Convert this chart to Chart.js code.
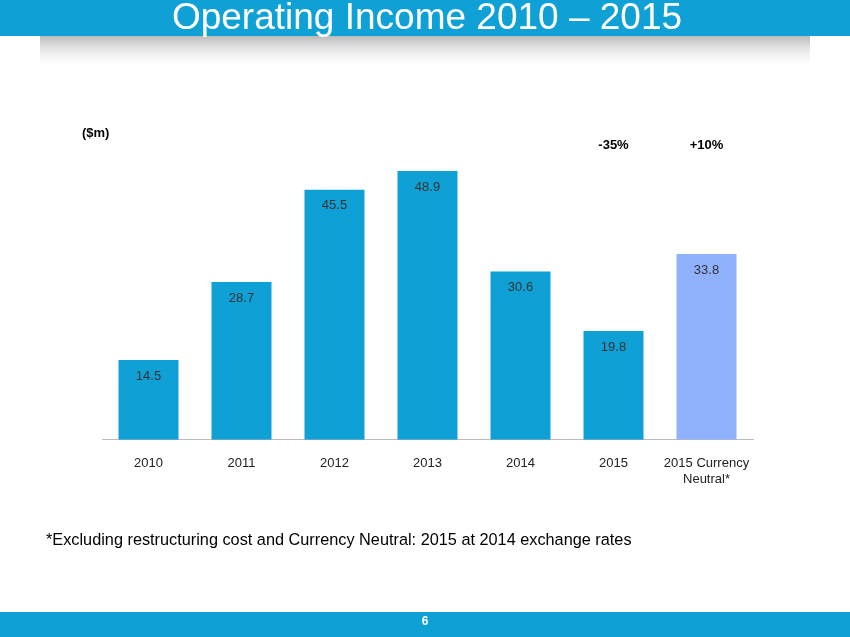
<!DOCTYPE html>
<html lang="en">
<head>
<meta charset="UTF-8">
<title>Operating Income 2010 – 2015</title>
<script src="https://cdn.jsdelivr.net/npm/chart.js"></script>
<style>
  body { margin: 0; background: #fff; }
  #wrap { position: relative; width: 850px; height: 637px; }
</style>
</head>
<body>
<div id="wrap"><canvas id="chart" width="850" height="637"></canvas></div>
<script>
const categories = ['2010', '2011', '2012', '2013', '2014', '2015', ['2015 Currency', 'Neutral*']];
const income = [14.5, 28.7, 45.5, 48.9, 30.6, 19.8, 33.8];
const barColors = ['#0fa0d6', '#0fa0d6', '#0fa0d6', '#0fa0d6', '#0fa0d6', '#0fa0d6', '#90b1fb'];
const changes = [{ idx: 5, text: '-35%' }, { idx: 6, text: '+10%' }];

const extras = {
  id: 'extras',
  beforeDraw(chart) {
    const c = chart.ctx;
    c.save();
    // header band + fading shadow
    const g = c.createLinearGradient(0, 35, 0, 70);
    g.addColorStop(0, 'rgba(150,150,150,0.7)');
    g.addColorStop(1, 'rgba(255,255,255,0)');
    c.fillStyle = g;
    c.fillRect(40, 35, 770, 35);
    c.fillStyle = '#0fa0d6';
    c.fillRect(0, 0, 850, 36);
    c.fillRect(0, 612, 850, 25);
    c.restore();
  },
  afterDraw(chart) {
    const c = chart.ctx;
    const x = chart.scales.x, y = chart.scales.y;
    c.save();
    c.fillStyle = '#fff';
    c.textAlign = 'center';
    c.textBaseline = 'middle';
    c.font = '37px "Liberation Sans", Arial, sans-serif';
    c.fillText('Operating Income 2010 \u2013 2015', 427, 19);
    c.font = 'bold 12px "Liberation Sans", Arial, sans-serif';
    c.fillText('6', 425, 622);
    c.fillStyle = '#000';
    c.font = 'bold 13px "Liberation Sans", Arial, sans-serif';
    c.textAlign = 'left';
    c.fillText('($m)', 82, 133);
    c.textAlign = 'center';
    changes.forEach(ch => c.fillText(ch.text, x.getPixelForValue(ch.idx), 145));
    c.fillStyle = '#333';
    c.font = '13px "Liberation Sans", Arial, sans-serif';
    income.forEach((v, i) => c.fillText(v.toFixed(1), x.getPixelForValue(i), y.getPixelForValue(v) + 16));
    c.fillStyle = '#000';
    c.font = '16.3px "Liberation Sans", Arial, sans-serif';
    c.textAlign = 'left';
    c.fillText('*Excluding restructuring cost and Currency Neutral: 2015 at 2014 exchange rates', 46, 541);
    c.restore();
  }
};

new Chart(document.getElementById('chart'), {
  type: 'bar',
  data: {
    labels: categories,
    datasets: [{ data: income, backgroundColor: barColors, categoryPercentage: 1, barPercentage: 0.645 }]
  },
  options: {
    responsive: false,
    animation: false,
    layout: { padding: { left: 102, right: 97, top: 110, bottom: 142 } },
    plugins: { legend: { display: false }, tooltip: { enabled: false } },
    scales: {
      x: {
        grid: { display: false },
        border: { color: '#bbb' },
        ticks: { color: '#222', font: { size: 13, family: '"Liberation Sans", Arial, sans-serif' }, padding: 8 }
      },
      y: { display: false, min: 0, max: 60 }
    }
  },
  plugins: [extras]
});
</script>
</body>
</html>
